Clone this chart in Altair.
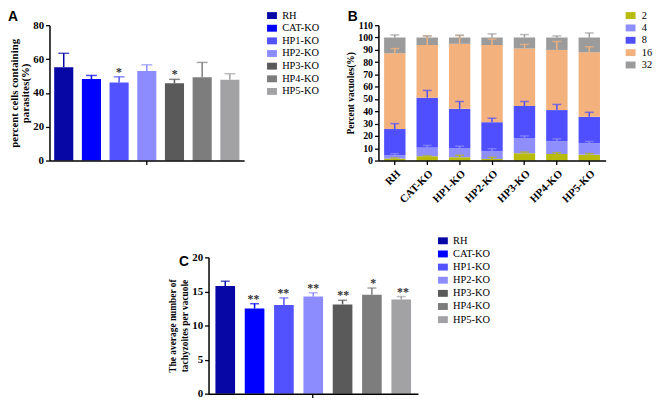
import altair as alt
import pandas as pd

# ---------------- data ----------------
cats = ["RH", "CAT-KO", "HP1-KO", "HP2-KO", "HP3-KO", "HP4-KO", "HP5-KO"]
cat_colors = ["#0707a6", "#0000ff", "#5252ff", "#8c8cff", "#5a5a5a", "#7d7d7d", "#a2a2a5"]

# panel A: percent cells containing parasites
a_mean = [55.2, 48.2, 46.2, 53.0, 45.7, 49.2, 47.8]
a_err = [8.2, 2.1, 3.3, 3.6, 2.3, 8.8, 3.5]
a_sig = ["", "", "*", "", "*", "", ""]

# panel B: percent vacuoles with 2/4/8/16/32 parasites
sizes = ["2", "4", "8", "16", "32"]
size_colors = ["#b8bb0a", "#8e8eff", "#4f4fff", "#f3b27d", "#9b9b9b"]
b_2 = [1.6, 3.5, 2.7, 1.3, 5.9, 5.3, 4.8]
b_4 = [2.7, 7.2, 7.2, 6.4, 12.5, 10.4, 9.3]
b_8 = [21.3, 40.3, 32.1, 23.5, 25.9, 25.3, 21.4]
b_16 = [61.6, 42.9, 52.9, 62.7, 46.7, 48.9, 52.5]
b_32 = [12.8, 6.1, 5.1, 6.1, 9.0, 10.1, 12.0]
b_2_err = [0.5, 0.3, 1.6, 1.4, 1.0, 1.1, 0.8]
b_4_err = [1.3, 1.6, 1.8, 1.9, 1.6, 1.9, 1.4]
b_8_err = [4.4, 6.0, 6.0, 3.2, 3.7, 4.6, 3.7]
b_16_err = [3.8, 7.4, 6.7, 4.8, 3.4, 6.9, 4.5]
b_32_err = [2.1, 1.3, 1.9, 2.9, 2.4, 1.3, 3.7]

# panel C: average number of tachyzoites per vacuole
c_mean = [15.8, 12.5, 13.0, 14.25, 13.1, 14.5, 13.8]
c_err = [0.7, 0.7, 1.05, 0.55, 0.6, 1.0, 0.45]
c_sig = ["", "**", "**", "**", "**", "*", "**"]

SERIF = "Liberation Serif"
SANS = "Liberation Sans"
W, H = 658, 394
SQ = "M-1,-0.7H1V0.7H-1Z"


def line_style():
    return dict(domainColor="black", domainWidth=1.5, tickColor="black",
                tickWidth=1.3, tickSize=4, grid=False, zindex=1)


def letter(t, x, y):
    return alt.Chart(pd.DataFrame({"t": [t]})).mark_text(
        font=SANS, fontWeight="bold", fontSize=14, align="left",
        baseline="top", color="black").encode(
        x=alt.value(x), y=alt.value(y), text="t:N")


def bar_panel(means, errs, sigs, x_range, pi, po, y_range, y_domain, y_values,
              y_title, title_size, line_h, y_off, x_off, leg_x, leg_y, leg_pad,
              cap, let, let_xy):
    df = pd.DataFrame({"cat": cats, "mean": means,
                       "top": [m + e for m, e in zip(means, errs)],
                       "sig": sigs})
    xs = alt.Scale(domain=cats, range=x_range, paddingInner=pi, paddingOuter=po)
    ys = alt.Scale(domain=y_domain, range=y_range, nice=False)
    cs = alt.Scale(domain=cats, range=cat_colors)
    base = alt.Chart(df)
    xa = alt.Axis(orient="bottom", offset=x_off, values=["HP2-KO"], labels=False,
                  title=None, **line_style())
    ya = alt.Axis(orient="left", offset=y_off, values=y_values, title=y_title,
                  titleFont=SERIF, titleFontSize=title_size, titleFontWeight="bold",
                  titleColor="black", titlePadding=2, titleLineHeight=line_h,
                  labelFont=SERIF, labelFontSize=11, labelFontWeight="bold",
                  labelColor="black", labelPadding=2, labelOverlap=False,
                  **line_style())
    bars = base.mark_bar().encode(
        x=alt.X("cat:N", scale=xs, axis=xa),
        y=alt.Y("mean:Q", scale=ys, axis=ya),
        color=alt.Color("cat:N", scale=cs, legend=alt.Legend(
            orient="none", legendX=leg_x, legendY=leg_y, title=None,
            symbolType=SQ, symbolSize=100, symbolStrokeWidth=0,
            symbolOpacity=1, labelFont=SERIF, labelFontSize=10.5,
            labelColor="black", rowPadding=leg_pad, labelOffset=5, padding=0)))
    xn = alt.X("cat:N", scale=xs, axis=None)
    cn = alt.Color("cat:N", scale=cs, legend=None)
    stem = base.mark_rule(strokeWidth=1.5).encode(
        x=xn, y=alt.Y("mean:Q", scale=ys, axis=None), y2="top:Q", color=cn)
    capm = base.mark_tick(size=cap, thickness=1.5).encode(
        x=xn, y=alt.Y("top:Q", scale=ys, axis=None), color=cn)
    star = base.mark_text(font=SERIF, fontWeight="bold", fontSize=12,
                          color="#333333", baseline="alphabetic", dy=-1).encode(
        x=xn, y=alt.Y("top:Q", scale=ys, axis=None), text="sig:N")
    return [bars, stem, capm, star, letter(let, *let_xy)]


# ---------------- panel A ----------------
layersA = bar_panel(a_mean, a_err, a_sig, [42, 239], 0.31, 0.17, [152, 15],
                    [0, 80], [0, 20, 40, 60, 80],
                    ["percent cells containing", "parasites(%)"], 11, 11.5,
                    -42, 152 - H, 262, 0, 1.8, 11, "A", (0, 0))

# ---------------- panel B ----------------
b_vals = [b_2, b_4, b_8, b_16, b_32]
b_errs = [b_2_err, b_4_err, b_8_err, b_16_err, b_32_err]
recs = []
for i, c in enumerate(cats):
    lo = 0.0
    for s, vals, errs in zip(sizes, b_vals, b_errs):
        hi = lo + vals[i]
        recs.append({"cat": c, "size": s, "lo": lo, "hi": hi, "top": hi + errs[i]})
        lo = hi
dfB = pd.DataFrame(recs)
xsB = alt.Scale(domain=cats, range=[375, 605], paddingInner=0.34, paddingOuter=0.175)
ysB = alt.Scale(domain=[0, 110], range=[152, 15], nice=False)
csB = alt.Scale(domain=sizes, range=size_colors)
baseB = alt.Chart(dfB)
barsB = baseB.mark_bar().encode(
    x=alt.X("cat:N", scale=xsB, axis=alt.Axis(
        orient="bottom", offset=152 - H, title=None, labelAngle=-45,
        labelFont=SERIF, labelFontSize=11, labelFontWeight="bold",
        labelColor="black", labelPadding=3, **line_style())),
    y=alt.Y("lo:Q", scale=ysB, axis=alt.Axis(
        orient="left", offset=-375, values=list(range(0, 111, 10)),
        title="Percent vacuoles(%)", titleFont=SERIF, titleFontSize=9.5,
        titleFontWeight="bold", titleColor="black", titlePadding=2,
        labelFont=SERIF, labelFontSize=10, labelFontWeight="bold",
        labelColor="black", labelPadding=2, labelOverlap=False, **line_style())),
    y2="hi:Q",
    color=alt.Color("size:N", scale=csB, legend=alt.Legend(
        orient="none", legendX=625, legendY=0, title=None, symbolType=SQ,
        symbolSize=100, symbolStrokeWidth=0, symbolOpacity=1, labelFont=SERIF,
        labelFontSize=10.5, labelColor="black", rowPadding=1.5, labelOffset=6,
        padding=0)))
xnB = alt.X("cat:N", scale=xsB, axis=None)
cnB = alt.Color("size:N", scale=csB, legend=None)
stemB = baseB.mark_rule(strokeWidth=1.5).encode(
    x=xnB, y=alt.Y("hi:Q", scale=ysB, axis=None), y2="top:Q", color=cnB)
capB = baseB.mark_tick(size=9, thickness=1.5).encode(
    x=xnB, y=alt.Y("top:Q", scale=ysB, axis=None), color=cnB)
layersB = [barsB, stemB, capB, letter("B", 344, 0)]

# ---------------- panel C ----------------
layersC = bar_panel(c_mean, c_err, c_sig, [203, 415], 0.33, 0.235, [388, 250],
                    [0, 20], [0, 5, 10, 15, 20],
                    ["The average number of", "tachyzoites per vacuole"], 9.5, 12.5,
                    -203, 388 - H, 435, 228, 2.3, 9, "C", (173, 248))

chart = alt.layer(*(layersA + layersB + layersC)).resolve_scale(
    x="independent", y="independent", color="independent"
).resolve_axis(x="independent", y="independent").resolve_legend(
    color="independent"
).properties(
    width=W, height=H, autosize=alt.AutoSizeParams(type="none"), padding=0,
    background="white"
).configure_view(stroke=None)

chart.save("out.html", embed_options={"renderer": "svg", "actions": False})
